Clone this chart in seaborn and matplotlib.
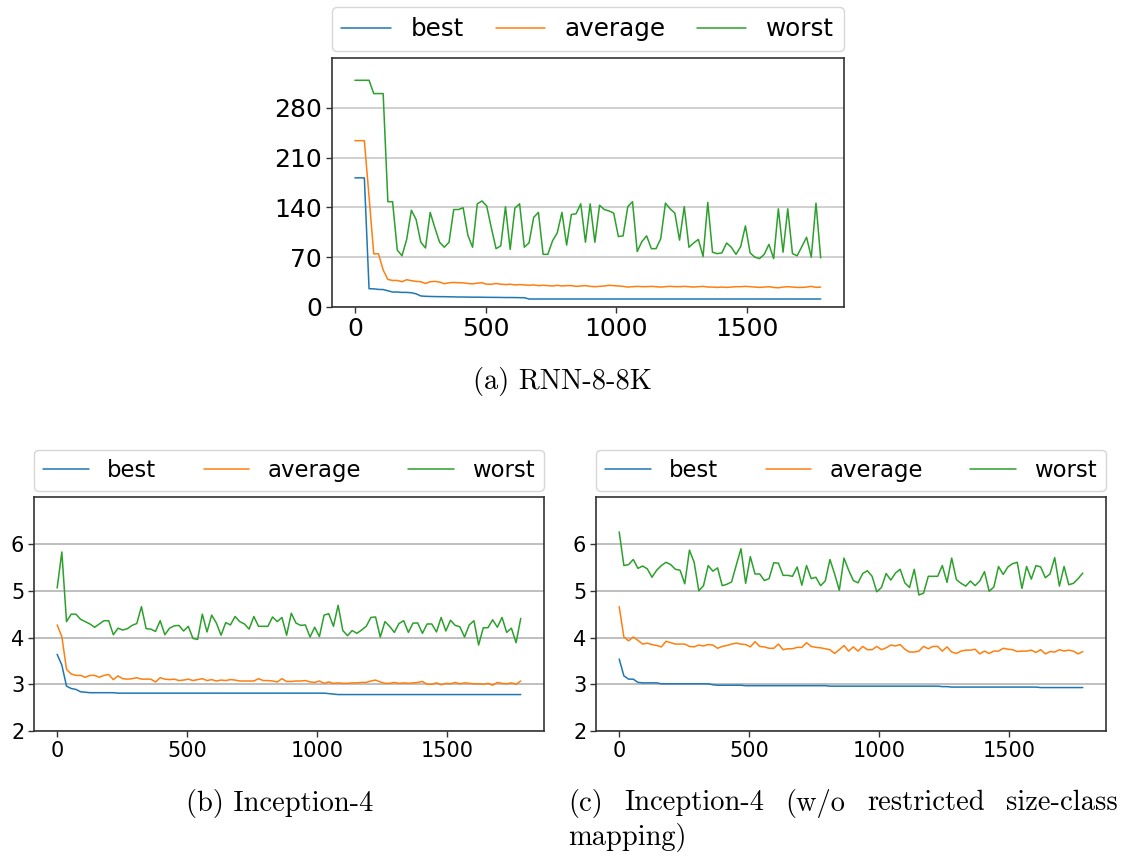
import numpy as np
import pandas as pd
import matplotlib
matplotlib.use("Agg")
import matplotlib.pyplot as plt
import seaborn as sns

# ------------------------------------------------------------
# data: one sample every 18 steps (0 .. 1782)
# ------------------------------------------------------------
steps = np.arange(0, 1783, 18)
kinds = ["best", "average", "worst"]

# (a) RNN-8-8K
rnn_best = [181.5, 181.5, 181.5, 25.7, 25.5, 24.7, 24.5, 22.8, 21, 21,
            20.5, 20.5, 20, 18.5, 15.5, 15, 14.8, 14.6, 14.5, 14.5,
            14.3, 14.2, 14, 14, 13.9, 13.8, 13.8, 13.7, 13.6, 13.5,
            13.5, 13.4, 13.3, 13.3, 13.2, 13.1, 13, 11.2, 11.2, 11.2,
            11.2, 11.2, 11.2, 11.2, 11.2, 11.2, 11.2, 11.2, 11.2, 11.2,
            11.2, 11.2, 11.2, 11.2, 11.2, 11.2, 11.2, 11.2, 11.2, 11.2,
            11.2, 11.2, 11.2, 11.2, 11.2, 11.2, 11.2, 11.2, 11.2, 11.2,
            11.2, 11.2, 11.2, 11.2, 11.2, 11.2, 11.2, 11.2, 11.2, 11.2,
            11.2, 11.2, 11.2, 11.2, 11.2, 11.2, 11.2, 11.2, 11.2, 11.2,
            11.2, 11.2, 11.2, 11.2, 11.2, 11.2, 11.2, 11.2, 11.2, 11.2]
rnn_avg = [233.8, 233.8, 233.8, 155, 74.7, 74.7, 52, 38.7, 37.3, 37.3,
           35.5, 38.3, 37, 36, 35.5, 33, 35.5, 36, 35, 32.7,
           34, 34.5, 34, 34, 33, 32.5, 33.5, 34, 32, 32,
           33, 32, 31.5, 32, 31, 31.5, 31, 30.5, 31, 30,
           30.5, 30, 29.5, 30.5, 29.5, 30, 30, 29, 29.5, 30,
           29, 28.5, 29, 29.5, 30.5, 30, 29.5, 29, 28, 28.5,
           29, 28.5, 28.5, 29, 28.5, 28, 28.5, 29, 28.5, 28.5,
           29, 28.5, 28, 28.5, 29, 28, 28, 27.5, 28, 27.5,
           28, 28.5, 28.5, 29, 28.5, 28, 27.5, 28, 28.5, 27.5,
           27, 28, 28.5, 28, 27.5, 27.5, 28, 29, 27.5, 28]
rnn_worst = [318.7, 318.7, 318.7, 318.7, 300, 300, 300, 148, 148, 80,
             72, 95, 136, 123, 91, 83, 133, 111, 91, 84,
             91, 137, 137, 139.5, 101, 84, 145, 149, 142, 111,
             82, 86, 141, 81, 139, 145, 84, 90, 126, 133,
             74, 74, 93, 104, 133, 87, 130, 131, 145, 91,
             145, 91, 143, 137, 135, 132, 99, 100, 141, 148,
             78, 92, 100, 82, 82, 96, 146, 138, 132, 94,
             141, 84, 90, 95, 71, 147, 77, 75, 76, 90,
             84, 74, 85, 114, 76, 70, 68, 74, 88, 68,
             138, 77, 138, 75, 72, 85, 98, 70, 146, 69]

# (b) Inception-4
inc_best = [3.64, 3.41, 2.96, 2.91, 2.89, 2.84, 2.83, 2.82, 2.82, 2.82,
            2.82, 2.82, 2.82, 2.81, 2.81, 2.81, 2.81, 2.81, 2.81, 2.81,
            2.81, 2.81, 2.81, 2.81, 2.81, 2.81, 2.81, 2.81, 2.81, 2.81,
            2.81, 2.81, 2.81, 2.81, 2.81, 2.81, 2.81, 2.81, 2.81, 2.81,
            2.81, 2.81, 2.81, 2.81, 2.81, 2.81, 2.81, 2.81, 2.81, 2.81,
            2.81, 2.81, 2.81, 2.81, 2.81, 2.81, 2.81, 2.81, 2.80, 2.79,
            2.78, 2.78, 2.78, 2.78, 2.78, 2.78, 2.78, 2.78, 2.78, 2.78,
            2.78, 2.78, 2.78, 2.78, 2.78, 2.78, 2.78, 2.78, 2.78, 2.78,
            2.78, 2.78, 2.78, 2.78, 2.78, 2.78, 2.78, 2.78, 2.78, 2.78,
            2.78, 2.78, 2.78, 2.78, 2.78, 2.78, 2.78, 2.78, 2.78, 2.78]
inc_avg = [4.27, 4.02, 3.32, 3.22, 3.19, 3.19, 3.15, 3.19, 3.19, 3.15,
           3.19, 3.21, 3.10, 3.18, 3.12, 3.11, 3.12, 3.14, 3.11, 3.11,
           3.11, 3.05, 3.14, 3.11, 3.10, 3.11, 3.08, 3.09, 3.11, 3.08,
           3.10, 3.12, 3.08, 3.10, 3.07, 3.09, 3.08, 3.10, 3.09, 3.07,
           3.07, 3.07, 3.07, 3.12, 3.08, 3.08, 3.07, 3.05, 3.12, 3.06,
           3.06, 3.07, 3.07, 3.08, 3.05, 3.04, 3.07, 3.02, 3.05, 3.02,
           3.03, 3.02, 3.02, 3.03, 3.03, 3.04, 3.04, 3.07, 3.09, 3.05,
           3.02, 3.02, 3.04, 3.02, 3.03, 3.02, 3.03, 3.04, 3.06, 3.00,
           3.00, 3.03, 2.99, 3.02, 3.01, 3.04, 3.01, 3.03, 3.02, 3.01,
           3.01, 3.00, 3.02, 2.98, 3.04, 3.02, 3.01, 3.03, 3.00, 3.07]
inc_worst = [5.06, 5.83, 4.34, 4.50, 4.50, 4.39, 4.34, 4.29, 4.22, 4.29,
             4.36, 4.36, 4.06, 4.20, 4.16, 4.19, 4.26, 4.30, 4.66, 4.19,
             4.18, 4.13, 4.36, 4.06, 4.20, 4.25, 4.26, 4.14, 4.24, 3.98,
             3.96, 4.50, 4.12, 4.48, 4.31, 4.05, 4.32, 4.27, 4.45, 4.34,
             4.29, 4.18, 4.45, 4.24, 4.24, 4.24, 4.44, 4.34, 4.43, 4.05,
             4.52, 4.31, 4.26, 4.27, 4.01, 4.22, 4.02, 4.48, 4.51, 4.24,
             4.69, 4.15, 4.04, 4.15, 4.09, 4.16, 4.24, 4.43, 4.44, 4.01,
             4.34, 4.24, 4.11, 4.30, 4.36, 4.11, 4.31, 4.31, 4.09, 4.29,
             4.29, 4.12, 4.43, 4.14, 4.37, 4.26, 4.23, 4.01, 4.27, 4.36,
             3.84, 4.21, 4.21, 4.38, 4.22, 4.43, 4.11, 4.20, 3.89, 4.41]

# (c) Inception-4 without restricted size-class mapping
nr_best = [3.54, 3.18, 3.11, 3.11, 3.04, 3.03, 3.03, 3.03, 3.03, 3.01,
           3.01, 3.01, 3.01, 3.01, 3.01, 3.01, 3.01, 3.01, 3.01, 3.01,
           2.99, 2.98, 2.98, 2.98, 2.98, 2.98, 2.98, 2.97, 2.97, 2.97,
           2.97, 2.97, 2.97, 2.97, 2.97, 2.97, 2.97, 2.97, 2.97, 2.97,
           2.97, 2.97, 2.97, 2.97, 2.97, 2.96, 2.96, 2.96, 2.96, 2.96,
           2.96, 2.96, 2.96, 2.96, 2.96, 2.96, 2.96, 2.96, 2.96, 2.96,
           2.96, 2.96, 2.96, 2.96, 2.96, 2.96, 2.96, 2.96, 2.96, 2.95,
           2.95, 2.94, 2.94, 2.94, 2.94, 2.94, 2.94, 2.94, 2.94, 2.94,
           2.94, 2.94, 2.94, 2.94, 2.94, 2.94, 2.94, 2.94, 2.94, 2.94,
           2.93, 2.93, 2.93, 2.93, 2.93, 2.93, 2.93, 2.93, 2.93, 2.93]
nr_avg = [4.66, 4.01, 3.93, 4.01, 3.94, 3.86, 3.88, 3.85, 3.83, 3.80,
          3.92, 3.89, 3.86, 3.86, 3.86, 3.81, 3.80, 3.84, 3.82, 3.85,
          3.84, 3.77, 3.81, 3.83, 3.86, 3.88, 3.86, 3.85, 3.80, 3.91,
          3.81, 3.80, 3.77, 3.77, 3.86, 3.74, 3.76, 3.76, 3.79, 3.79,
          3.89, 3.81, 3.79, 3.78, 3.76, 3.74, 3.66, 3.74, 3.83, 3.71,
          3.80, 3.71, 3.81, 3.74, 3.74, 3.81, 3.74, 3.78, 3.84, 3.82,
          3.85, 3.75, 3.69, 3.69, 3.71, 3.81, 3.76, 3.81, 3.81, 3.71,
          3.80, 3.69, 3.66, 3.71, 3.73, 3.73, 3.75, 3.65, 3.71, 3.66,
          3.71, 3.71, 3.77, 3.75, 3.74, 3.70, 3.71, 3.71, 3.73, 3.68,
          3.74, 3.65, 3.70, 3.69, 3.74, 3.71, 3.73, 3.71, 3.65, 3.70]
nr_worst = [6.26, 5.54, 5.56, 5.67, 5.48, 5.53, 5.47, 5.29, 5.44, 5.54,
            5.61, 5.56, 5.46, 5.44, 5.15, 5.87, 5.61, 5.00, 5.11, 5.54,
            5.42, 5.49, 5.11, 5.14, 5.19, 5.55, 5.90, 5.16, 5.73, 5.36,
            5.36, 5.22, 5.26, 5.60, 5.59, 5.33, 5.33, 5.31, 5.51, 5.12,
            5.54, 5.26, 5.29, 5.11, 5.21, 5.67, 5.36, 5.01, 5.70, 5.44,
            5.22, 5.17, 5.37, 5.43, 5.31, 4.98, 5.07, 5.37, 5.23, 5.38,
            5.46, 5.17, 5.07, 5.46, 4.91, 4.95, 5.31, 5.31, 5.31, 5.54,
            5.18, 5.70, 5.24, 5.16, 5.10, 5.21, 5.11, 5.21, 5.41, 4.99,
            5.08, 5.52, 5.35, 5.51, 5.58, 5.61, 5.05, 5.52, 5.25, 5.54,
            5.51, 5.28, 5.36, 5.71, 5.10, 5.52, 5.13, 5.16, 5.26, 5.38]

palette = {"best": "#1f77b4", "average": "#ff7f0e", "worst": "#2ca02c"}


def long_frame(best, avg, worst):
    parts = []
    for kind, vals in zip(kinds, [best, avg, worst]):
        parts.append(pd.DataFrame({"step": steps, "value": vals, "kind": kind}))
    return pd.concat(parts, ignore_index=True)


# ------------------------------------------------------------
# style
# ------------------------------------------------------------
sns.set_theme(style="ticks")
plt.rcParams["font.family"] = ["DejaVu Sans"]
plt.rcParams["axes.edgecolor"] = "#333333"
plt.rcParams["axes.linewidth"] = 1.2
plt.rcParams["text.color"] = "black"
plt.rcParams["xtick.labelcolor"] = "black"
plt.rcParams["ytick.labelcolor"] = "black"

fig = plt.figure(figsize=(11.25, 8.57), dpi=100)

ax_a = fig.add_axes([0.2948, 0.6418, 0.4554, 0.2905])
ax_b = fig.add_axes([0.0302, 0.1470, 0.4533, 0.2727])
ax_c = fig.add_axes([0.5298, 0.1470, 0.4533, 0.2727])

panels = [
    (ax_a, long_frame(rnn_best, rnn_avg, rnn_worst), (0, 350), [0, 70, 140, 210, 280], 18, 17.7, "#c8c8c8"),
    (ax_b, long_frame(inc_best, inc_avg, inc_worst), (2, 7), [2, 3, 4, 5, 6], 15, 16.4, "#b4b4b4"),
    (ax_c, long_frame(nr_best, nr_avg, nr_worst), (2, 7), [2, 3, 4, 5, 6], 15, 16.4, "#b4b4b4"),
]

for ax, df, ylim, yticks, tick_fs, leg_fs, grid_c in panels:
    sns.lineplot(data=df, x="step", y="value", hue="kind", palette=palette,
                 hue_order=kinds, estimator=None, linewidth=1.1, ax=ax)
    ax.set_ylim(*ylim)
    ax.set_yticks(yticks)
    ax.set_xticks([0, 500, 1000, 1500])
    ax.set_xlabel("")
    ax.set_ylabel("")
    ax.yaxis.grid(True, color=grid_c, linewidth=1.2)
    ax.set_axisbelow(True)
    ax.tick_params(labelsize=tick_fs, length=4, width=1, color="#333333", pad=3)
    handles, labels = ax.get_legend_handles_labels()
    leg = ax.legend(handles, labels, loc="lower left", bbox_to_anchor=(0, 1.028, 1, 0.1),
                    mode="expand", ncol=3, borderaxespad=0, fontsize=leg_fs,
                    frameon=True, fancybox=True, framealpha=0.8, edgecolor="#cccccc",
                    handlelength=2.0)
    for t in leg.get_texts():
        t.set_color("black")

# ------------------------------------------------------------
# captions (serif, LaTeX-like)
# ------------------------------------------------------------
cap_font = dict(family=["cmr10", "DejaVu Serif"], fontsize=20.5, color="black")
fig.text(562 / 1125, 1 - 381 / 857, "(a) RNN-8-8K", ha="center", va="center", **cap_font)
fig.text(280 / 1125, 1 - 803 / 857, "(b) Inception-4", ha="center", va="center", **cap_font)

# justified first line for caption (c)
words = ["(c)", "Inception-4", "(w/o", "restricted", "size-class"]
x_left, x_right = 568 / 1125, 1118 / 1125
word_txt = [fig.text(x_left, 1 - 803 / 857, w, ha="left", va="center", **cap_font) for w in words]
fig.canvas.draw()
renderer = fig.canvas.get_renderer()
widths = [t.get_window_extent(renderer).width / fig.bbox.width for t in word_txt]
gap = (x_right - x_left - sum(widths)) / (len(words) - 1)
pos = x_left
for t, w in zip(word_txt, widths):
    t.set_x(pos)
    pos += w + gap
fig.text(x_left, 1 - 838 / 857, "mapping)", ha="left", va="center", **cap_font)

fig.savefig("out.png", dpi=100)
